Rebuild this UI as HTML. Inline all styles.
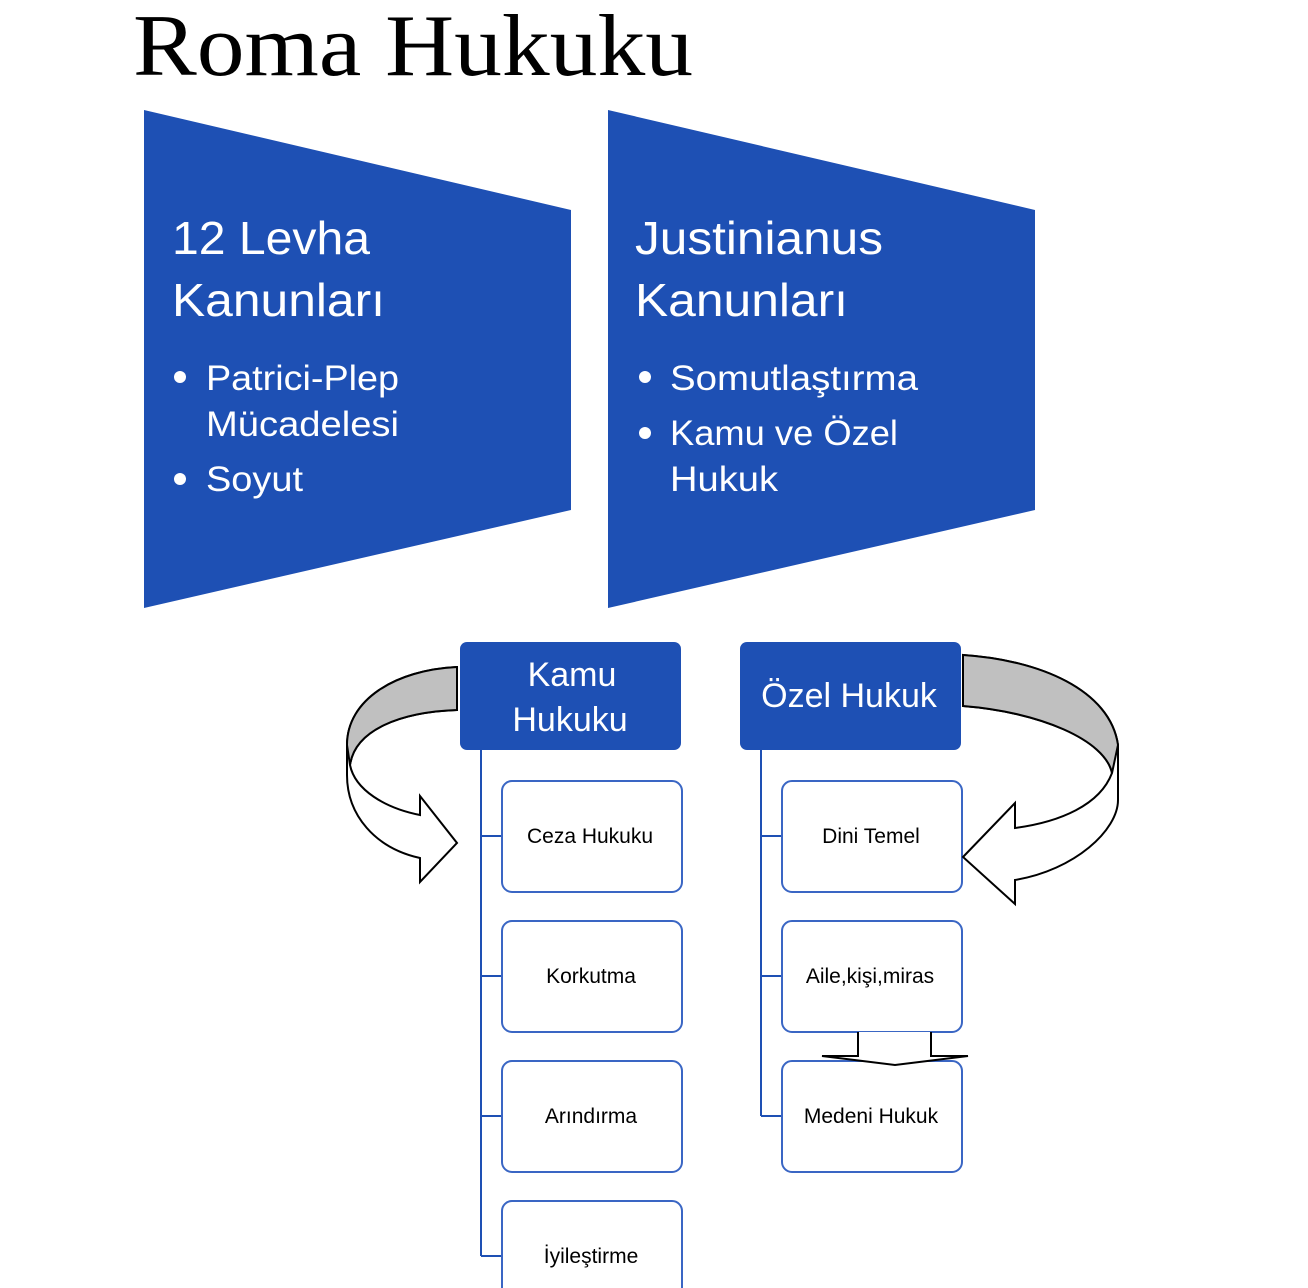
<!DOCTYPE html>
<html><head><meta charset="utf-8"><style>
html,body{margin:0;padding:0;background:#fff;}
svg{display:block;}
</style></head><body>
<svg width="1308" height="1288" viewBox="0 0 1308 1288" xmlns="http://www.w3.org/2000/svg">
<text x="133" y="75" font-family="Liberation Serif, serif" font-size="88" fill="#000" textLength="560" lengthAdjust="spacingAndGlyphs">Roma Hukuku</text>

<polygon points="144,110 571,210 571,510 144,608" fill="#1E50B4"/>
<polygon points="608,110 1035,210 1035,510 608,608" fill="#1E50B4"/>

<g font-family="Liberation Sans, sans-serif" fill="#fff">
<text x="172" y="254" font-size="46" textLength="198" lengthAdjust="spacingAndGlyphs">12 Levha</text>
<text x="172" y="316" font-size="46" textLength="213" lengthAdjust="spacingAndGlyphs">Kanunları</text>
<circle cx="180" cy="377" r="6"/>
<text x="206" y="390" font-size="35" textLength="193" lengthAdjust="spacingAndGlyphs">Patrici-Plep</text>
<text x="206" y="436" font-size="35" textLength="193" lengthAdjust="spacingAndGlyphs">Mücadelesi</text>
<circle cx="180" cy="479" r="6"/>
<text x="206" y="491" font-size="35" textLength="97" lengthAdjust="spacingAndGlyphs">Soyut</text>

<text x="635" y="254" font-size="46" textLength="248" lengthAdjust="spacingAndGlyphs">Justinianus</text>
<text x="635" y="316" font-size="46" textLength="213" lengthAdjust="spacingAndGlyphs">Kanunları</text>
<circle cx="645" cy="377" r="6"/>
<text x="670" y="390" font-size="35" textLength="248" lengthAdjust="spacingAndGlyphs">Somutlaştırma</text>
<circle cx="645" cy="433" r="6"/>
<text x="670" y="445" font-size="35" textLength="228" lengthAdjust="spacingAndGlyphs">Kamu ve Özel</text>
<text x="670" y="491" font-size="35" textLength="108" lengthAdjust="spacingAndGlyphs">Hukuk</text>
</g>

<!-- connector lines -->
<g stroke="#1E50B4" stroke-width="2" fill="none">
<path d="M481,750 V1256 M481,836 H502 M481,976 H502 M481,1116 H502 M481,1256 H502"/>
<path d="M761,750 V1116 M761,836 H782 M761,976 H782 M761,1116 H782"/>
</g>

<rect x="460" y="642" width="221" height="108" rx="7" fill="#1E50B4"/>
<rect x="740" y="642" width="221" height="108" rx="7" fill="#1E50B4"/>
<g font-family="Liberation Sans, sans-serif" fill="#fff" font-size="34" text-anchor="middle">
<text x="572" y="686">Kamu</text>
<text x="570" y="731">Hukuku</text>
<text x="849" y="707">Özel Hukuk</text>
</g>

<g fill="#fff" stroke="#3A66C4" stroke-width="2">
<rect x="502" y="781" width="180" height="111" rx="10"/>
<rect x="502" y="921" width="180" height="111" rx="10"/>
<rect x="502" y="1061" width="180" height="111" rx="10"/>
<rect x="502" y="1201" width="180" height="111" rx="10"/>
<rect x="782" y="781" width="180" height="111" rx="10"/>
<rect x="782" y="921" width="180" height="111" rx="10"/>
<rect x="782" y="1061" width="180" height="111" rx="10"/>
</g>
<g font-family="Liberation Sans, sans-serif" fill="#000" font-size="21" text-anchor="middle">
<text x="590" y="843">Ceza  Hukuku</text>
<text x="591" y="983">Korkutma</text>
<text x="591" y="1123">Arındırma</text>
<text x="591" y="1263">İyileştirme</text>
<text x="871" y="843">Dini Temel</text>
<text x="870" y="983">Aile,kişi,miras</text>
<text x="871" y="1123">Medeni Hukuk</text>
</g>

<!-- left curved arrow -->
<path d="M457,667 L457,710 C400,712 355,730 350,765 C355,790 385,808 420,815 L420,796 L457,843 L420,882 L420,858 C375,848 347,815 347,775 L347,745 C347,700 395,670 457,667 Z" fill="#fff" stroke="#000" stroke-width="2"/>
<path d="M457,667 L457,710 C400,712 355,730 350,765 L347,745 C347,700 395,670 457,667 Z" fill="#c0c0c0" stroke="#000" stroke-width="2"/>

<!-- right curved arrow -->
<path d="M963,655 L963,706 C1040,712 1105,740 1112,773 C1100,805 1060,822 1015,828 L1015,803 L963,857 L1015,904 L1015,880 C1075,870 1118,830 1118,800 L1118,745 C1110,690 1040,660 963,655 Z" fill="#fff" stroke="#000" stroke-width="2"/>
<path d="M963,655 L963,706 C1040,712 1105,740 1112,773 L1118,745 C1110,690 1040,660 963,655 Z" fill="#c0c0c0" stroke="#000" stroke-width="2"/>

<!-- small down arrow -->
<path d="M858,1032 V1056 H822 L895,1065 L968,1056 H931 V1032" fill="#fff" stroke="#000" stroke-width="2"/>
</svg>
</body></html>
